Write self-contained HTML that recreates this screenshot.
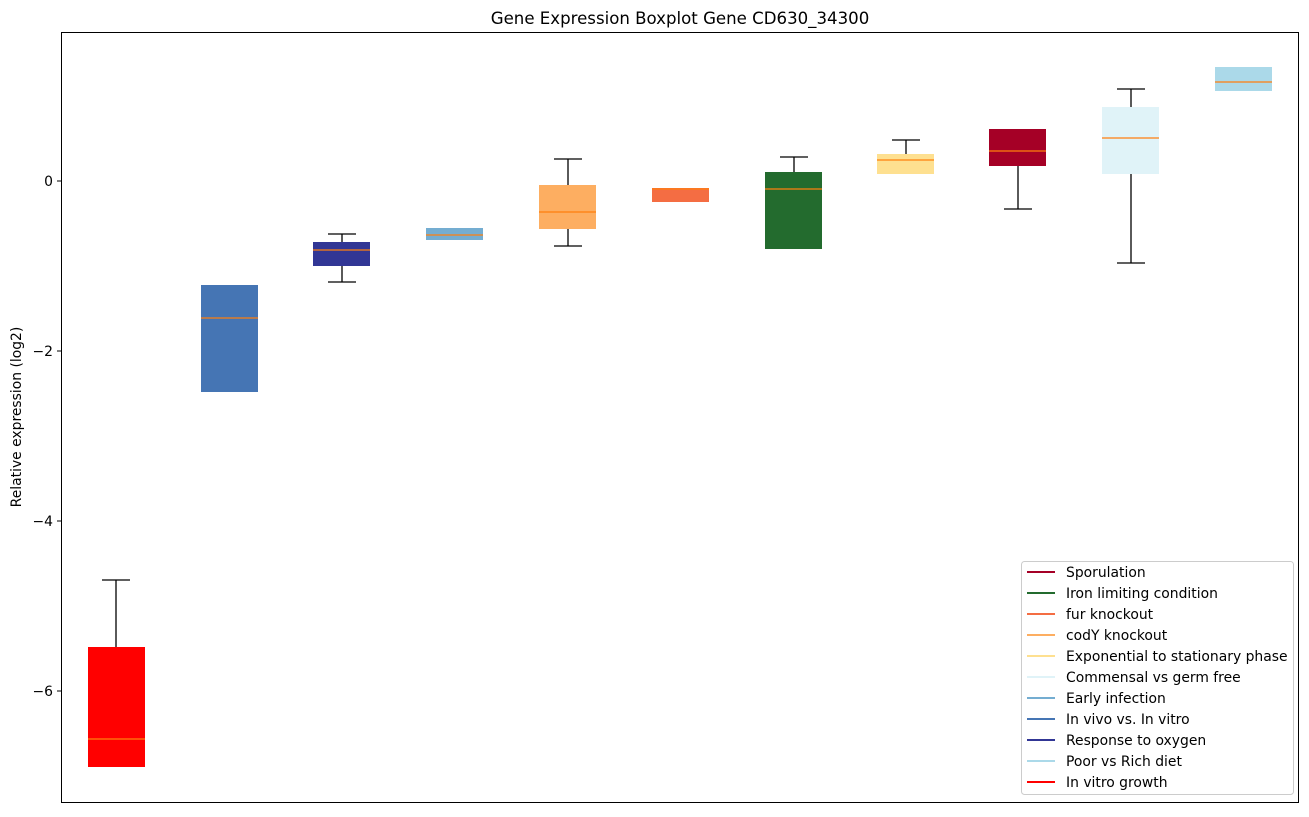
<!DOCTYPE html><html><head><style>body{margin:0;background:#fff}svg{font-family:"DejaVu Sans","Liberation Sans",sans-serif}</style></head><body>
<svg width="1309" height="812" viewBox="0 0 1309 812" xmlns="http://www.w3.org/2000/svg">
<rect width="1309" height="812" fill="#fff"/>
<text x="680" y="24" font-size="16.6" text-anchor="middle" fill="#000">Gene Expression Boxplot Gene CD630_34300</text>
<g stroke="#000" stroke-width="1.3" fill="none">
<line x1="116" y1="580" x2="116" y2="647"/><line x1="102" y1="580" x2="130" y2="580"/>
<line x1="342" y1="234" x2="342" y2="242"/><line x1="328" y1="234" x2="356" y2="234"/>
<line x1="342" y1="266" x2="342" y2="282"/><line x1="328" y1="282" x2="356" y2="282"/>
<line x1="568" y1="159" x2="568" y2="185"/><line x1="554" y1="159" x2="582" y2="159"/>
<line x1="568" y1="229" x2="568" y2="246"/><line x1="554" y1="246" x2="582" y2="246"/>
<line x1="794" y1="157" x2="794" y2="172"/><line x1="780" y1="157" x2="808" y2="157"/>
<line x1="906" y1="140" x2="906" y2="154"/><line x1="892" y1="140" x2="920" y2="140"/>
<line x1="1018" y1="166" x2="1018" y2="209"/><line x1="1004" y1="209" x2="1032" y2="209"/>
<line x1="1131" y1="89" x2="1131" y2="107"/><line x1="1117" y1="89" x2="1145" y2="89"/>
<line x1="1131" y1="174" x2="1131" y2="263"/><line x1="1117" y1="263" x2="1145" y2="263"/>
</g>
<rect x="88" y="647" width="57" height="120" fill="#ff0000"/>
<rect x="201" y="285" width="57" height="107" fill="#4575b4"/>
<rect x="313" y="242" width="57" height="24" fill="#313695"/>
<rect x="426" y="228" width="57" height="12" fill="#74add1"/>
<rect x="539" y="185" width="57" height="44" fill="#fdae61"/>
<rect x="652" y="188" width="57" height="14" fill="#f46d43"/>
<rect x="765" y="172" width="57" height="77" fill="#236b2e"/>
<rect x="877" y="154" width="57" height="20" fill="#fee090"/>
<rect x="989" y="129" width="57" height="37" fill="#a50026"/>
<rect x="1102" y="107" width="57" height="67" fill="#e0f3f8"/>
<rect x="1215" y="67" width="57" height="24" fill="#abd9e9"/>
<g stroke="#ff7f0e" stroke-width="1.3">
<line x1="88" y1="739" x2="145" y2="739"/><line x1="201" y1="318" x2="258" y2="318"/>
<line x1="313" y1="250" x2="370" y2="250"/><line x1="426" y1="235" x2="483" y2="235"/>
<line x1="539" y1="212" x2="596" y2="212"/><line x1="652" y1="189" x2="709" y2="189"/>
<line x1="765" y1="189" x2="822" y2="189"/><line x1="877" y1="160" x2="934" y2="160"/>
<line x1="989" y1="151" x2="1046" y2="151"/><line x1="1102" y1="138" x2="1159" y2="138"/>
<line x1="1215" y1="82" x2="1272" y2="82"/>
</g>
<rect x="61.5" y="32.5" width="1237" height="770" fill="none" stroke="#000" stroke-width="1"/>
<g stroke="#000" stroke-width="1"><line x1="57" y1="181" x2="61" y2="181"/><line x1="57" y1="351" x2="61" y2="351"/><line x1="57" y1="521" x2="61" y2="521"/><line x1="57" y1="691" x2="61" y2="691"/></g>
<g font-size="13.9" text-anchor="end" fill="#000"><text x="53" y="186">0</text><text x="53" y="356">−2</text><text x="53" y="526">−4</text><text x="53" y="696">−6</text></g>
<text transform="translate(21,417) rotate(-90)" font-size="13.9" text-anchor="middle">Relative expression (log2)</text>
<rect x="1021.5" y="561.5" width="272" height="233" rx="3" fill="#fff" stroke="#ccc"/>
<g stroke-width="2">
<line x1="1027" y1="572" x2="1055" y2="572" stroke="#a50026"/>
<line x1="1027" y1="593" x2="1055" y2="593" stroke="#236b2e"/>
<line x1="1027" y1="614" x2="1055" y2="614" stroke="#f46d43"/>
<line x1="1027" y1="635" x2="1055" y2="635" stroke="#fdae61"/>
<line x1="1027" y1="656" x2="1055" y2="656" stroke="#fee090"/>
<line x1="1027" y1="677" x2="1055" y2="677" stroke="#e0f3f8"/>
<line x1="1027" y1="698" x2="1055" y2="698" stroke="#74add1"/>
<line x1="1027" y1="719" x2="1055" y2="719" stroke="#4575b4"/>
<line x1="1027" y1="740" x2="1055" y2="740" stroke="#313695"/>
<line x1="1027" y1="761" x2="1055" y2="761" stroke="#abd9e9"/>
<line x1="1027" y1="782" x2="1055" y2="782" stroke="#ff0000"/>
</g>
<g font-size="13.9" fill="#000">
<text x="1066" y="577">Sporulation</text><text x="1066" y="598">Iron limiting condition</text>
<text x="1066" y="619">fur knockout</text><text x="1066" y="640">codY knockout</text>
<text x="1066" y="661">Exponential to stationary phase</text><text x="1066" y="682">Commensal vs germ free</text>
<text x="1066" y="703">Early infection</text><text x="1066" y="724">In vivo vs. In vitro</text>
<text x="1066" y="745">Response to oxygen</text><text x="1066" y="766">Poor vs Rich diet</text>
<text x="1066" y="787">In vitro growth</text>
</g>
</svg></body></html>
